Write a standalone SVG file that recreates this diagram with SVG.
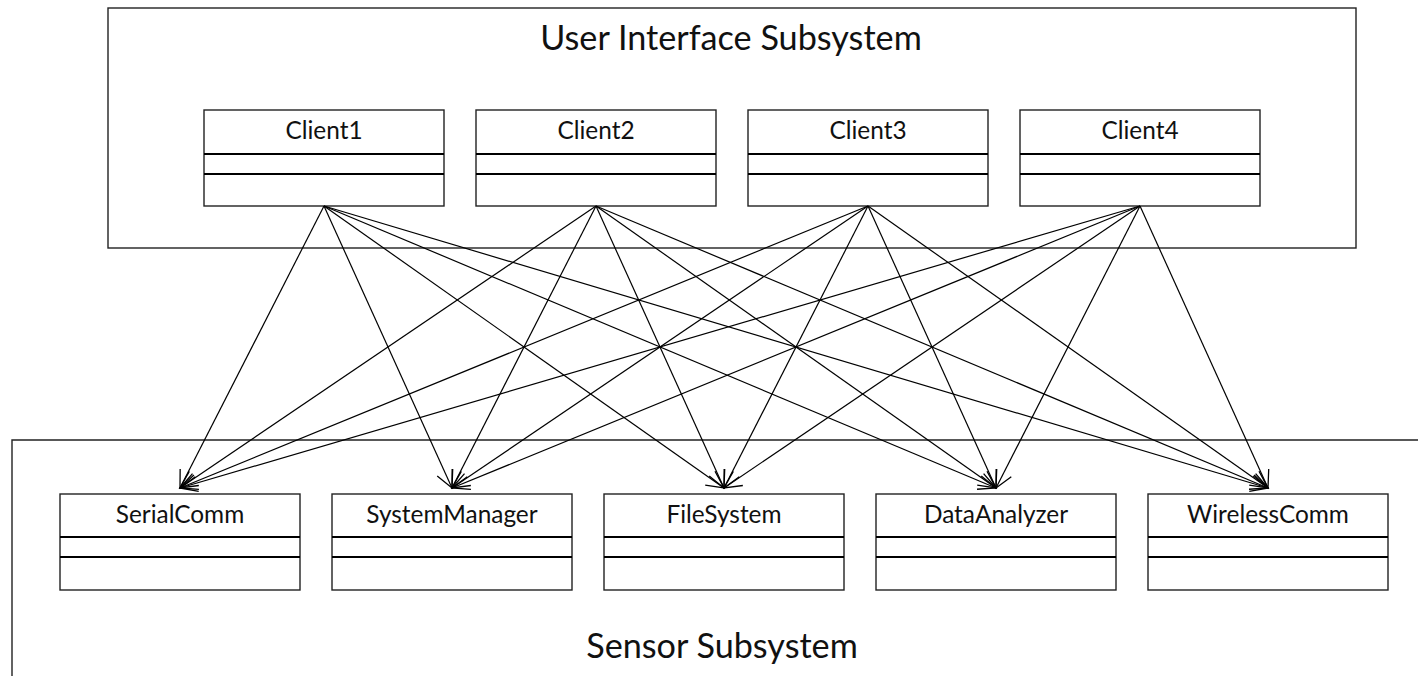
<svg xmlns="http://www.w3.org/2000/svg" width="1418" height="676" viewBox="0 0 1418 676">
  <style>
    .pkg { fill: none; stroke: #222; stroke-width: 1.4; }
    .cls { fill: #fff; stroke: #222; stroke-width: 1.4; }
    .sep { stroke: #000; stroke-width: 2; }
    .name { font-family: Lato, "Liberation Sans", sans-serif; font-size: 24.4px; fill: #111; text-anchor: middle; }
    .title { font-family: Lato, "Liberation Sans", sans-serif; font-size: 34.2px; fill: #111; text-anchor: middle; }
    .dep { fill: none; stroke: #000; stroke-width: 1.2; marker-end: url(#open); }
  </style>
  <defs>
    <marker id="open" viewBox="-20 -10 22 20" refX="0" refY="0" markerWidth="22" markerHeight="20" markerUnits="userSpaceOnUse" orient="auto" overflow="visible">
      <path d="M -17 -8.5 L 0 0 L -17 8.5" fill="none" stroke="#000" stroke-width="1.3"/>
    </marker>
  </defs>
  <rect width="1418" height="676" fill="#fff"/>

  <!-- subsystem frames -->
  <g id="ui-subsystem">
    <rect class="pkg" x="108" y="8" width="1248" height="240"/>
    <text class="title" x="731" y="50">User Interface Subsystem</text>
  </g>
  <g id="sensor-subsystem">
    <path class="pkg" d="M 1420 440 L 12 440 L 12 680"/>
    <text class="title" x="722" y="658">Sensor Subsystem</text>
  </g>

  <!-- client classes -->
  <g id="client1">
    <rect class="cls" x="204" y="110" width="240" height="96"/>
    <line class="sep" x1="204" y1="154" x2="444" y2="154"/>
    <line class="sep" x1="204" y1="174" x2="444" y2="174"/>
    <text class="name" x="324" y="139">Client1</text>
  </g>
  <g id="client2">
    <rect class="cls" x="476" y="110" width="240" height="96"/>
    <line class="sep" x1="476" y1="154" x2="716" y2="154"/>
    <line class="sep" x1="476" y1="174" x2="716" y2="174"/>
    <text class="name" x="596" y="139">Client2</text>
  </g>
  <g id="client3">
    <rect class="cls" x="748" y="110" width="240" height="96"/>
    <line class="sep" x1="748" y1="154" x2="988" y2="154"/>
    <line class="sep" x1="748" y1="174" x2="988" y2="174"/>
    <text class="name" x="868" y="139">Client3</text>
  </g>
  <g id="client4">
    <rect class="cls" x="1020" y="110" width="240" height="96"/>
    <line class="sep" x1="1020" y1="154" x2="1260" y2="154"/>
    <line class="sep" x1="1020" y1="174" x2="1260" y2="174"/>
    <text class="name" x="1140" y="139">Client4</text>
  </g>

  <!-- sensor classes -->
  <g id="serialcomm">
    <rect class="cls" x="60" y="494" width="240" height="96"/>
    <line class="sep" x1="60" y1="537" x2="300" y2="537"/>
    <line class="sep" x1="60" y1="557" x2="300" y2="557"/>
    <text class="name" x="180" y="523">SerialComm</text>
  </g>
  <g id="systemmanager">
    <rect class="cls" x="332" y="494" width="240" height="96"/>
    <line class="sep" x1="332" y1="537" x2="572" y2="537"/>
    <line class="sep" x1="332" y1="557" x2="572" y2="557"/>
    <text class="name" x="452" y="523">SystemManager</text>
  </g>
  <g id="filesystem">
    <rect class="cls" x="604" y="494" width="240" height="96"/>
    <line class="sep" x1="604" y1="537" x2="844" y2="537"/>
    <line class="sep" x1="604" y1="557" x2="844" y2="557"/>
    <text class="name" x="724" y="523">FileSystem</text>
  </g>
  <g id="dataanalyzer">
    <rect class="cls" x="876" y="494" width="240" height="96"/>
    <line class="sep" x1="876" y1="537" x2="1116" y2="537"/>
    <line class="sep" x1="876" y1="557" x2="1116" y2="557"/>
    <text class="name" x="996" y="523">DataAnalyzer</text>
  </g>
  <g id="wirelesscomm">
    <rect class="cls" x="1148" y="494" width="240" height="96"/>
    <line class="sep" x1="1148" y1="537" x2="1388" y2="537"/>
    <line class="sep" x1="1148" y1="557" x2="1388" y2="557"/>
    <text class="name" x="1268" y="523">WirelessComm</text>
  </g>

  <!-- dependencies: every client uses every sensor service -->
  <g id="connectors">
    <line class="dep" x1="324" y1="206" x2="180" y2="488"/>
    <line class="dep" x1="324" y1="206" x2="452" y2="488"/>
    <line class="dep" x1="324" y1="206" x2="724" y2="488"/>
    <line class="dep" x1="324" y1="206" x2="996" y2="488"/>
    <line class="dep" x1="324" y1="206" x2="1268" y2="488"/>

    <line class="dep" x1="596" y1="206" x2="180" y2="488"/>
    <line class="dep" x1="596" y1="206" x2="452" y2="488"/>
    <line class="dep" x1="596" y1="206" x2="724" y2="488"/>
    <line class="dep" x1="596" y1="206" x2="996" y2="488"/>
    <line class="dep" x1="596" y1="206" x2="1268" y2="488"/>

    <line class="dep" x1="868" y1="206" x2="180" y2="488"/>
    <line class="dep" x1="868" y1="206" x2="452" y2="488"/>
    <line class="dep" x1="868" y1="206" x2="724" y2="488"/>
    <line class="dep" x1="868" y1="206" x2="996" y2="488"/>
    <line class="dep" x1="868" y1="206" x2="1268" y2="488"/>

    <line class="dep" x1="1140" y1="206" x2="180" y2="488"/>
    <line class="dep" x1="1140" y1="206" x2="452" y2="488"/>
    <line class="dep" x1="1140" y1="206" x2="724" y2="488"/>
    <line class="dep" x1="1140" y1="206" x2="996" y2="488"/>
    <line class="dep" x1="1140" y1="206" x2="1268" y2="488"/>
  </g>
</svg>
